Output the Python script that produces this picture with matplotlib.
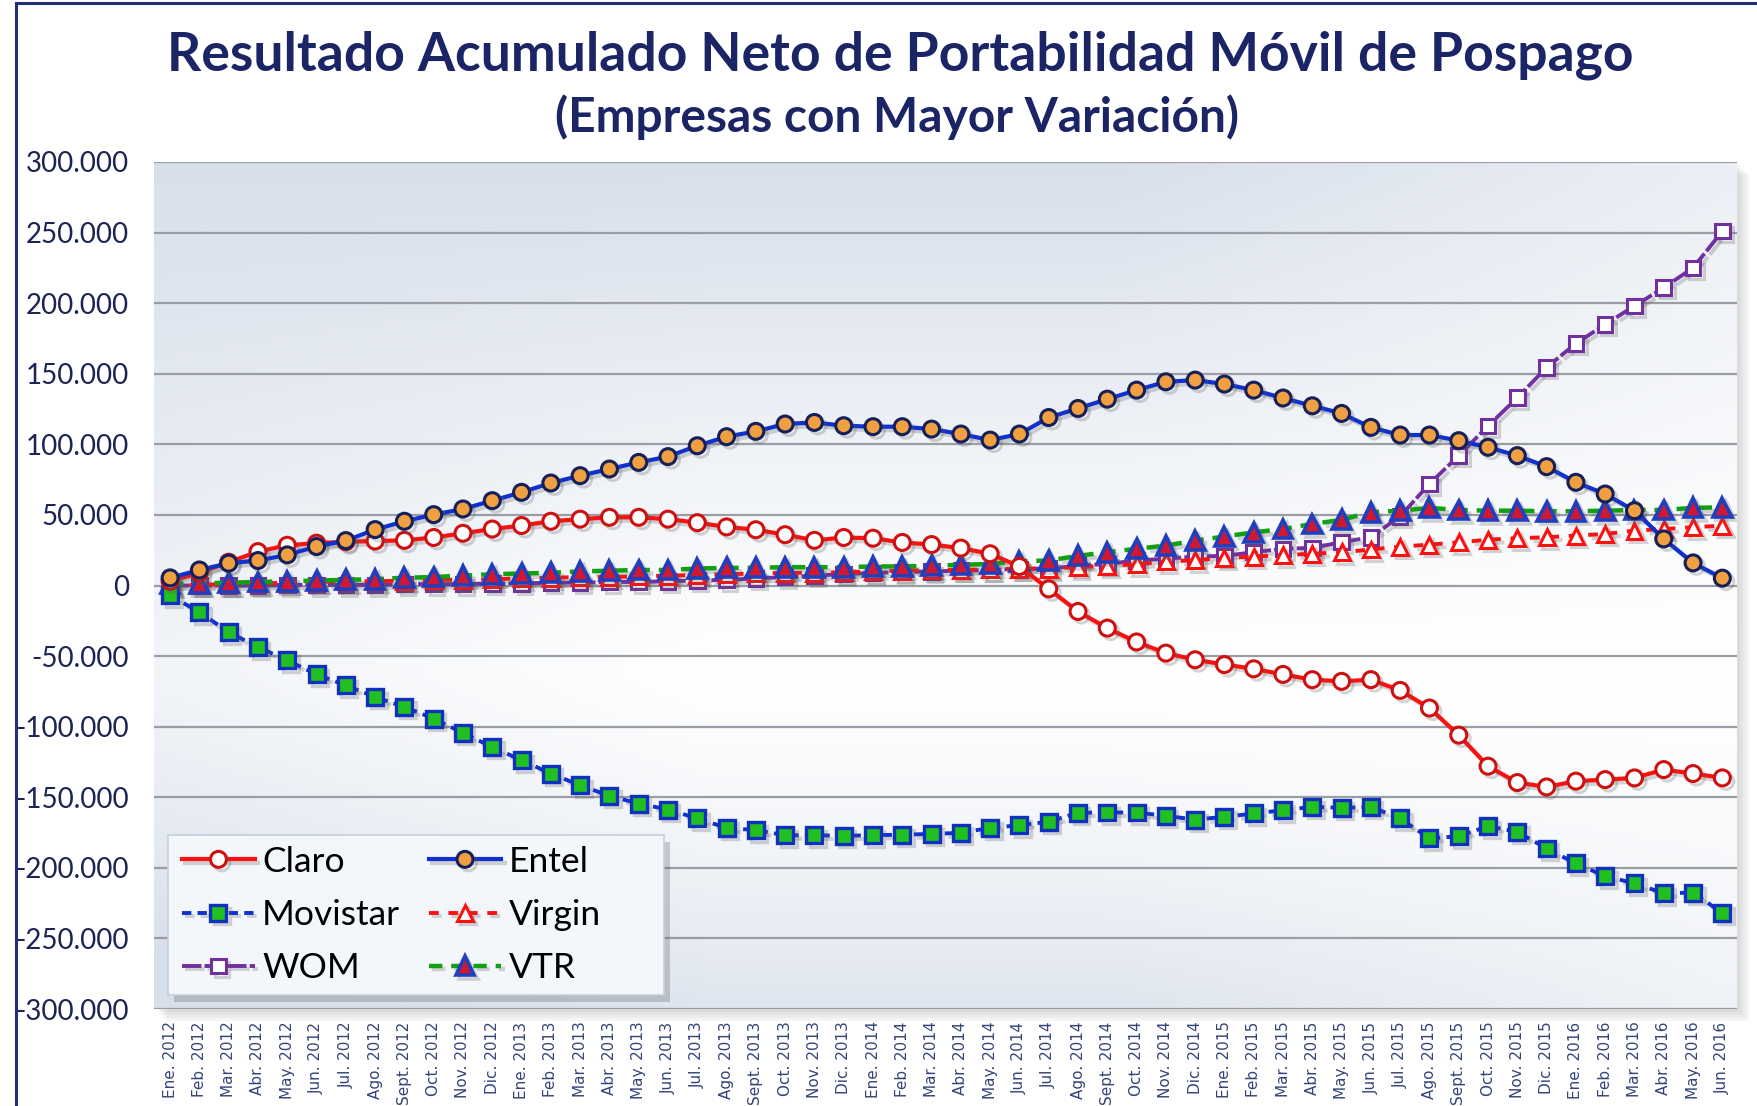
import numpy as np
import matplotlib
matplotlib.use('Agg')
import matplotlib.pyplot as plt
from matplotlib.ticker import FuncFormatter, FixedLocator
import matplotlib.patheffects as pe
from matplotlib.patches import Rectangle

# ---------------- data ----------------
x_labels = [
    'Ene. 2012', 'Feb. 2012', 'Mar. 2012', 'Abr. 2012', 'May. 2012', 'Jun. 2012',
    'Jul. 2012', 'Ago. 2012', 'Sept. 2012', 'Oct. 2012', 'Nov. 2012', 'Dic. 2012',
    'Ene. 2013', 'Feb. 2013', 'Mar. 2013', 'Abr. 2013', 'May. 2013', 'Jun. 2013',
    'Jul. 2013', 'Ago. 2013', 'Sept. 2013', 'Oct. 2013', 'Nov. 2013', 'Dic. 2013',
    'Ene. 2014', 'Feb. 2014', 'Mar. 2014', 'Abr. 2014', 'May. 2014', 'Jun. 2014',
    'Jul. 2014', 'Ago. 2014', 'Sept. 2014', 'Oct. 2014', 'Nov. 2014', 'Dic. 2014',
    'Ene. 2015', 'Feb. 2015', 'Mar. 2015', 'Abr. 2015', 'May. 2015', 'Jun. 2015',
    'Jul. 2015', 'Ago. 2015', 'Sept. 2015', 'Oct. 2015', 'Nov. 2015', 'Dic. 2015',
    'Ene. 2016', 'Feb. 2016', 'Mar. 2016', 'Abr. 2016', 'May. 2016', 'Jun. 2016',
]

claro = [3000, 9000, 16500, 24000, 28500, 30000, 31000, 31500, 32000, 34000,
         37000, 40000, 42500, 45500, 47000, 48300, 48300, 47000, 44500, 41500,
         39500, 36000, 32000, 34000, 33500, 30500, 29000, 26500, 22500, 13500,
         -2400, -18400, -30200, -40000, -47900, -52600, -56000, -59000, -63000, -66700,
         -67900, -66700, -74300, -86800, -106000, -128000, -139600, -142700, -138600, -137500,
         -136300, -130400, -133200, -136300]

entel = [5400, 11000, 15800, 17700, 21700, 27600, 31800, 39600, 45500, 50200,
         54200, 60100, 66000, 72600, 77800, 82500, 87200, 91300, 99000, 105400,
         109200, 114400, 115500, 113200, 112500, 112500, 110800, 107300, 103000, 107300,
         119000, 125400, 132000, 138400, 144300, 145500, 142700, 138400, 132800, 127300,
         121900, 112000, 106600, 106600, 102600, 97900, 92000, 84200, 73100, 64800,
         53000, 33000, 16000, 5200]

movistar = [-7000, -18900, -33000, -43600, -53000, -63000, -70700, -79000, -86000, -94300,
            -104500, -114400, -123800, -133200, -141500, -149000, -154500, -158700, -165000, -171700,
            -173300, -176900, -176900, -177300, -176900, -176500, -176000, -175200, -171700, -169800,
            -167400, -161000, -160800, -160800, -163200, -165800, -163900, -161500, -159200, -156800,
            -157500, -156800, -165000, -179200, -177600, -170500, -174500, -186300, -196900, -205900,
            -211000, -218000, -217600, -232000]

virgin = [0, 500, 1000, 1500, 2000, 2500, 3000, 3000, 3500, 4000,
          4000, 4500, 5000, 5500, 6000, 6000, 6500, 7000, 7500, 8000,
          8500, 9000, 9000, 9500, 10000, 10500, 11000, 11000, 11500, 12000,
          12000, 13000, 14000, 15000, 17000, 18000, 19500, 20500, 21500, 22500,
          23500, 25500, 27500, 29000, 30500, 32500, 33500, 34200, 35400, 36500,
          38900, 40000, 41300, 42400]

wom = [0, 0, 0, 0, 500, 500, 500, 500, 1000, 1000,
       1000, 1500, 1500, 2000, 2000, 2500, 2500, 3000, 3500, 4000,
       5000, 6000, 7000, 8000, 9000, 9500, 10000, 10500, 11000, 11800,
       12000, 14000, 15300, 17700, 19000, 20500, 21000, 23600, 26000, 26600,
       30700, 34200, 49000, 72000, 92000, 113000, 133000, 154500, 171400, 185000,
       198000, 211000, 225000, 251000]

vtr = [1000, 1500, 2000, 2500, 3000, 3500, 4000, 4500, 5500, 6000,
       7000, 8000, 8500, 9000, 10000, 10500, 11000, 11000, 12000, 12500,
       12500, 13000, 13000, 13000, 13500, 13500, 14000, 14600, 15300, 17200,
       17700, 21000, 23600, 26000, 28300, 31800, 34700, 37700, 40000, 43600,
       46500, 51900, 53000, 55000, 53500, 53000, 53000, 52600, 52600, 53000,
       53500, 53500, 55000, 55400]

y_ticks = [-300000, -250000, -200000, -150000, -100000, -50000, 0,
           50000, 100000, 150000, 200000, 250000, 300000]

title = 'Resultado Acumulado Neto de Portabilidad Móvil de Pospago'
subtitle = '(Empresas con Mayor Variación)'

# ---------------- figure ----------------
plt.rcParams['font.family'] = ['Lato', 'DejaVu Sans']
W, H = 1758, 1106
fig = plt.figure(figsize=(W / 100, H / 100), dpi=100)
fig.patch.set_facecolor('white')

ax_left, ax_bottom = 154 / W, 1 - 1009 / H
ax_w, ax_h = (1737 - 154) / W, (1009 - 162) / H
ax = fig.add_axes([ax_left, ax_bottom, ax_w, ax_h])

# plot-area shadow
for i, a in enumerate([0.05, 0.05, 0.05, 0.05]):
    off = (3 + 3 * i)
    fig.patches.append(Rectangle((ax_left + off / W, ax_bottom - off / H), ax_w, ax_h,
                                 transform=fig.transFigure, facecolor='0.3', alpha=a,
                                 edgecolor='none', zorder=-2))

# navy frame lines (left & top)
fig.add_artist(plt.Line2D([16 / W, 16 / W], [0, 1 - 3 / H], transform=fig.transFigure,
                          color='#22307a', lw=2.2))
fig.add_artist(plt.Line2D([16 / W, 1.0], [1 - 3 / H, 1 - 3 / H], transform=fig.transFigure,
                          color='#22307a', lw=2.2))

x = np.arange(len(x_labels))
xlim = (-0.55, len(x_labels) - 0.5)
ylim = (-300000, 300000)

# gradient background
ny, nx = 300, 300
yy = np.linspace(0, 1, ny)[:, None]
xx = np.linspace(0, 1, nx)[None, :]
top_w = np.clip((yy - 0.40) / 0.60, 0, 1) ** 1.1 * 1.0
bot_w = np.clip((0.40 - yy) / 0.40, 0, 1) ** 1.3 * 0.8
left_w = np.clip((0.35 - xx) / 0.35, 0, 1) * 0.35
right_w = np.clip((xx - 0.6) / 0.4, 0, 1) * 0.5
w = np.clip((top_w + bot_w) * (1 - right_w) + left_w * (1 - top_w), 0, 1)
c_edge = np.array([0.845, 0.875, 0.92])
img = 1 - w[..., None] * (1 - c_edge)
ax.imshow(img, extent=(xlim[0], xlim[1], ylim[0], ylim[1]), origin='lower',
          aspect='auto', zorder=0, interpolation='bilinear')

# gridlines
for yv in y_ticks:
    ax.axhline(yv, color='#9a9ea4', lw=1.6, zorder=1)

shadow = [pe.SimpleLineShadow(offset=(2.5, -2.5), shadow_color='0.35', alpha=0.25), pe.Normal()]

ms = 10.5
l_wom, = ax.plot(x, wom, color='#7030a0', lw=2.8, dashes=(5, 0.8), marker='s', ms=ms,
                 mfc='white', mec='#7030a0', mew=2.2, label='WOM', zorder=3, path_effects=shadow)
l_virgin, = ax.plot(x, virgin, color='#ff1010', lw=2.8, dashes=(2.5, 2.5), marker='^', ms=ms + 1,
                    mfc='white', mec='#ff1010', mew=2.2, label='Virgin', zorder=4, path_effects=shadow)
l_vtr, = ax.plot(x, vtr, color='#10a010', lw=3.2, dashes=(3, 2), marker='^', ms=ms + 3,
                 mfc='#d01830', mec='#1f3fbf', mew=2.6, label='VTR', zorder=5, path_effects=shadow)
l_movistar, = ax.plot(x, movistar, color='#1030d0', lw=2.8, dashes=(2.4, 1.6), marker='s', ms=ms + 1,
                      mfc='#20c020', mec='#1030c0', mew=2.4, label='Movistar', zorder=6,
                      path_effects=shadow)
l_claro, = ax.plot(x, claro, color='#ff1010', lw=3.0, marker='o', ms=ms + 1,
                   mfc='white', mec='#d01010', mew=2.2, label='Claro', zorder=7, path_effects=shadow)
l_entel, = ax.plot(x, entel, color='#1030d0', lw=3.0, marker='o', ms=ms + 1,
                   mfc='#f0a040', mec='#15205a', mew=2.2, label='Entel', zorder=8, path_effects=shadow)

ax.set_xlim(*xlim)
ax.set_ylim(*ylim)
for s in ax.spines.values():
    s.set_visible(False)

ax.yaxis.set_major_locator(FixedLocator(y_ticks))
ax.yaxis.set_major_formatter(FuncFormatter(lambda v, p: f'{v:,.0f}'.replace(',', '.')))
ax.tick_params(axis='y', length=0, pad=18, labelsize=20, labelcolor='#1c2456')
ax.set_xticks(x)
ax.set_xticklabels(x_labels, rotation=90, fontsize=11, color='#34447a', family='DejaVu Sans')
ax.tick_params(axis='x', length=0, pad=9)

# legend box (drawn manually to match the reference frame size)
lx0, lx1 = (168 - 154) / 1583, (664 - 154) / 1583
ly0, ly1 = (1009 - 995) / 847, (1009 - 835) / 847
ax.add_patch(Rectangle((lx0 + 0.004, ly0 - 0.008), lx1 - lx0, ly1 - ly0, transform=ax.transAxes,
                       facecolor='0.35', alpha=0.28, edgecolor='none', zorder=18))
ax.add_patch(Rectangle((lx0, ly0), lx1 - lx0, ly1 - ly0, transform=ax.transAxes,
                       facecolor='#f3f6fb', edgecolor='#c5cfdd', lw=1.2, zorder=19))

leg = ax.legend(handles=[l_claro, l_movistar, l_wom, l_entel, l_virgin, l_vtr],
                loc='center left', bbox_to_anchor=((182 - 154) / 1583, (1009 - 915) / 847),
                borderaxespad=0, ncol=2, fontsize=25.5, handlelength=2.06, handletextpad=0.2,
                columnspacing=0.8, labelspacing=0.6, borderpad=0.0, numpoints=1,
                frameon=False)
leg.set_zorder(20)

fig.text(0.512, 1 - 55 / H, title, ha='center', va='center', fontsize=38.5,
         fontweight='bold', color='#1b2566')
fig.text(0.51, 1 - 117 / H, subtitle, ha='center', va='center', fontsize=34.5,
         fontweight='bold', color='#1b2566')

fig.savefig('out.png', dpi=100, facecolor='white')
